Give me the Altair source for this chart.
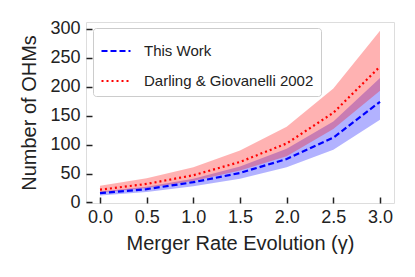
import altair as alt
import pandas as pd

gamma = [0.0, 0.5, 1.0, 1.5, 2.0, 2.5, 3.0]
this_mid = [16, 23, 35, 51, 75, 112, 174]
this_lo = [12, 18, 28, 41, 61, 91, 143]
this_hi = [19, 27, 41, 62, 93, 140, 215]
dg_mid = [22, 32, 47, 70, 102, 155, 235]
dg_lo = [17, 25, 37, 55, 80, 127, 193]
dg_hi = [29, 42, 61, 90, 131, 197, 297]
yticks = [0, 50, 100, 150, 200, 250, 300]

series = ["This Work", "Darling & Giovanelli 2002"]
colors = ["#0000ff", "#ff0000"]
dashes = [[6, 3], [2, 3]]

rows = []
for i, g in enumerate(gamma):
    rows.append(dict(g=g, s=series[0], mid=this_mid[i], lo=this_lo[i], hi=this_hi[i]))
    rows.append(dict(g=g, s=series[1], mid=dg_mid[i], lo=dg_lo[i], hi=dg_hi[i]))
df = pd.DataFrame(rows)

FONT = "Liberation Sans"

xscale = alt.Scale(domain=[-0.15, 3.15], nice=False, zero=False)
yscale = alt.Scale(domain=[-1, 312], nice=False, zero=False)

xaxis = alt.Axis(values=gamma, format=".1f", title="Merger Rate Evolution (γ)",
                 grid=False, domain=False, tickSize=6, offset=-6, tickColor="#222",
                 tickWidth=1.5, labelPadding=5, labelFontSize=18, titleFontSize=20,
                 labelFont=FONT, titleFont=FONT, labelColor="#222", titleColor="#222",
                 titleFontWeight="normal", titlePadding=7, labelOverlap=False)
yaxis = alt.Axis(values=yticks, title="Number of OHMs",
                 grid=False, domain=False, tickSize=6, offset=-6, tickColor="#222",
                 tickWidth=1.5, labelPadding=6, labelFontSize=18, titleFontSize=20,
                 labelFont=FONT, titleFont=FONT, labelColor="#222", titleColor="#222",
                 titleFontWeight="normal", titlePadding=10, labelOverlap=False)

base = alt.Chart(df)

band_blue = base.transform_filter(alt.datum.s == series[0]).mark_area(
    color="#0000ff", opacity=0.3).encode(
    x=alt.X("g:Q", scale=xscale, axis=xaxis),
    y=alt.Y("lo:Q", scale=yscale, axis=yaxis),
    y2="hi:Q")
band_red = base.transform_filter(alt.datum.s == series[1]).mark_area(
    color="#ff0000", opacity=0.3).encode(
    x=alt.X("g:Q", scale=xscale, axis=xaxis),
    y=alt.Y("lo:Q", scale=yscale, axis=yaxis), y2="hi:Q")

lines = base.mark_line(strokeWidth=2.2).encode(
    x=alt.X("g:Q", scale=xscale, axis=xaxis),
    y=alt.Y("mid:Q", scale=yscale, axis=yaxis),
    color=alt.Color("s:N", scale=alt.Scale(domain=series, range=colors),
                    legend=alt.Legend(title=None, orient="none", legendX=7, legendY=6,
                                      symbolType="stroke", symbolSize=841,
                                      symbolStrokeWidth=2.2, labelFontSize=15,
                                      labelFont=FONT, labelColor="#222",
                                      labelOffset=12, rowPadding=6, padding=7,
                                      labelLimit=400,
                                      fillColor="white", strokeColor="#cccccc",
                                      cornerRadius=3)),
    strokeDash=alt.StrokeDash("s:N", scale=alt.Scale(domain=series, range=dashes)),
)

chart = alt.layer(band_blue, band_red, lines).properties(
    width=308, height=181,
    autosize=alt.AutoSizeParams(type="none"),
    padding={"left": 78, "top": 14, "right": 13, "bottom": 66},
).configure_view(stroke="#222", strokeWidth=1.5).configure(background="white")

chart.save("out.html", embed_options={"renderer": "svg", "actions": False})
